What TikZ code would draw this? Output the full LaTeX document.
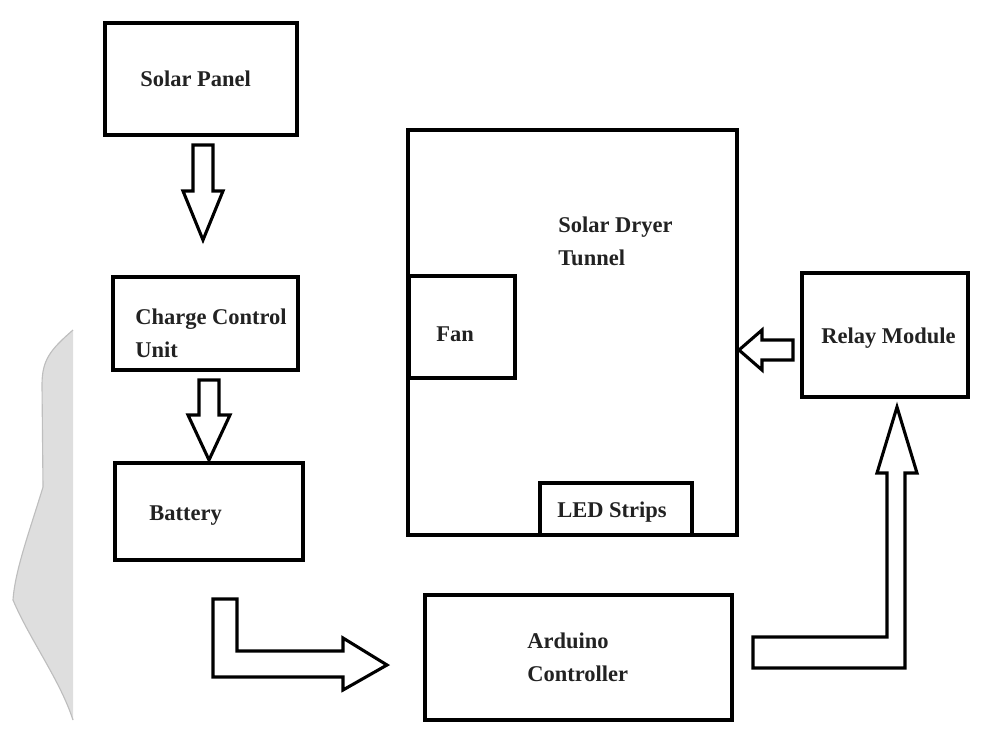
\documentclass[tikz,border=0pt]{standalone}
\usepackage{fontspec}
\setmainfont{Liberation Serif}
\definecolor{inkgray}{RGB}{34,34,34}
\definecolor{shadegray}{RGB}{222,222,222}
\definecolor{shadeedge}{RGB}{190,190,190}

\begin{document}
\begin{tikzpicture}[x=0.025cm,y=-0.025cm,line cap=butt,line join=miter,
    blockbox/.style 2 args={draw,line width=2.6pt,inner sep=0pt,
        minimum width=#1*0.025cm,minimum height=#2*0.025cm},
    boxtext/.style={anchor=base west,inner sep=0pt,align=left,text=inkgray,
        font=\fontsize{16}{22.8}\selectfont\bfseries},
    fatarrow/.style={draw,line width=2.2pt,fill=white}]
    \useasboundingbox (0,0) rectangle (995,742);

    % Sombra gris a la izquierda
    \fill[shadegray] (73,330) .. controls (50,350) and (42,360) .. (42,385)
        -- (43,487) .. controls (30,530) and (15,570) .. (13,600)
        .. controls (30,640) and (60,680) .. (73,720) -- cycle;
    \draw[shadeedge,line width=0.8pt] (73,330) .. controls (50,350) and (42,360) .. (42,385)
        -- (43,487) .. controls (30,530) and (15,570) .. (13,600)
        .. controls (30,640) and (60,680) .. (73,720);

    % Bloques
    \node[blockbox={192}{112}] (solar) at (201,79) {};
    \node[blockbox={185}{93}] (charge) at (205.5,323.5) {};
    \node[blockbox={188}{97}] (battery) at (209,511.5) {};
    \node[blockbox={329}{405}] (tunnel) at (572.5,332.5) {};
    \node[blockbox={106}{102}] (fan) at (462,327) {};
    \node[blockbox={152}{52}] (led) at (616,509) {};
    \node[blockbox={166}{124}] (relay) at (885,335) {};
    \node[blockbox={307}{125}] (arduino) at (578.5,657.5) {};

    % Textos (base = ultima linea)
    \node[boxtext] (solar-txt) at (140,87) {Solar Panel};
    \node[boxtext] (charge-txt) at (135,357) {Charge Control\\Unit};
    \node[boxtext] (battery-txt) at (149,520) {Battery};
    \node[boxtext] (tunnel-txt) at (558,265) {Solar Dryer\\Tunnel};
    \node[boxtext] (fan-txt) at (436,341) {Fan};
    \node[boxtext] (led-txt) at (557,517) {LED Strips};
    \node[boxtext] (relay-txt) at (821,343) {Relay Module};
    \node[boxtext] (arduino-txt) at (527,681) {Arduino\\Controller};

    % Flechas huecas
    \draw[fatarrow] (193,145) -- (213,145) -- (213,191) -- (223,191)
        -- (203,240) -- (183,191) -- (193,191) -- cycle;
    \draw[fatarrow] (199,380) -- (219,380) -- (219,415) -- (230,415)
        -- (209,460) -- (188,415) -- (199,415) -- cycle;
    \draw[fatarrow] (793,340) -- (793,360) -- (762,360) -- (762,370)
        -- (739,350) -- (762,330) -- (762,340) -- cycle;
    \draw[fatarrow] (213,599) -- (237,599) -- (237,651) -- (343,651)
        -- (343,638) -- (387,665) -- (343,690) -- (343,677) -- (213,677) -- cycle;
    \draw[fatarrow] (753,637) -- (887,637) -- (887,473) -- (877,473)
        -- (897,407) -- (917,473) -- (905,473) -- (905,668) -- (753,668) -- cycle;
\end{tikzpicture}
\end{document}
